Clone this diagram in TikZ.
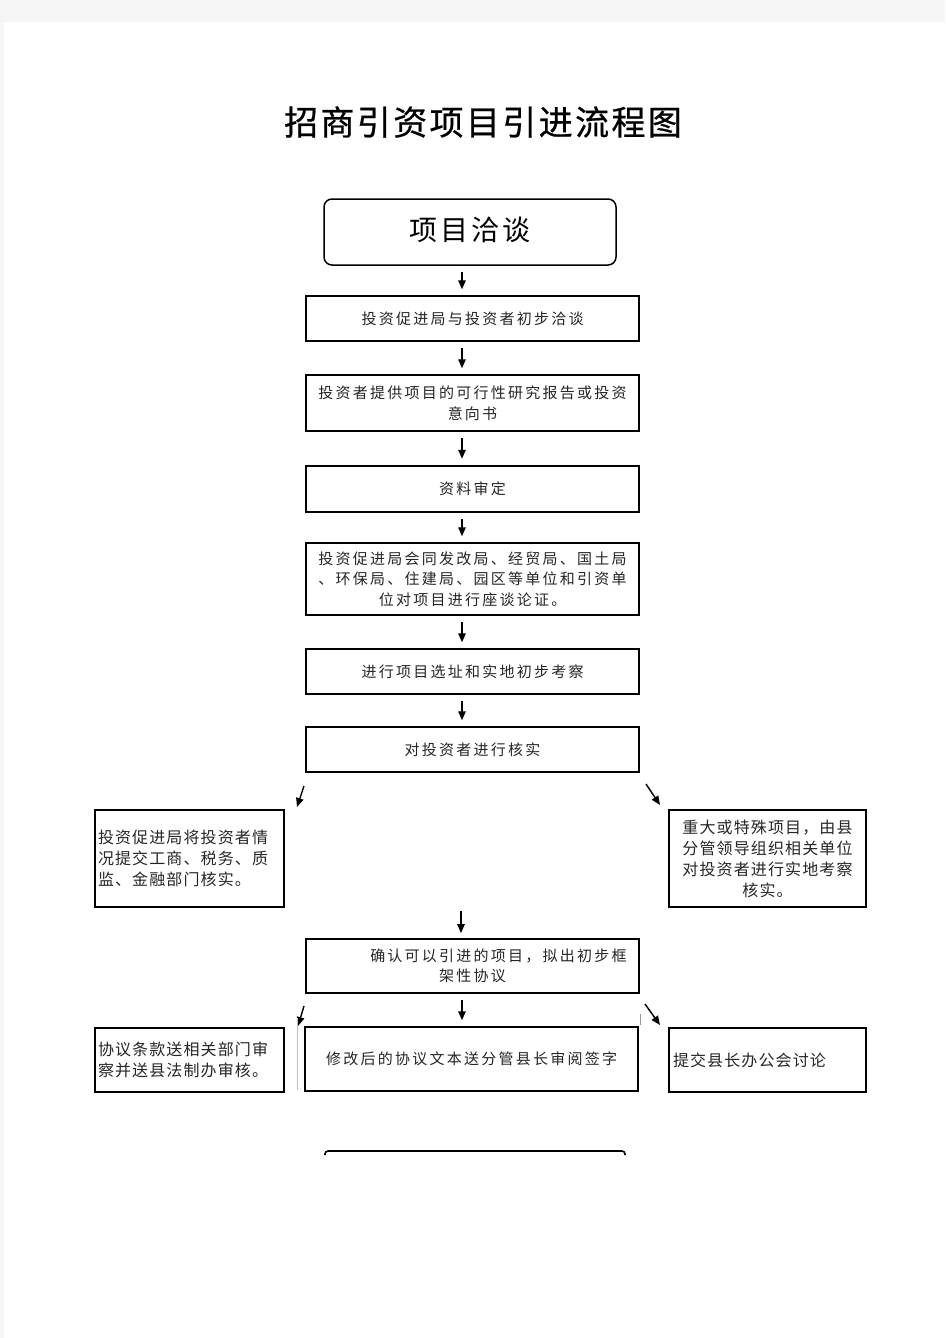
\documentclass[tikz,border=0pt]{standalone}
\usepackage{fontspec}
\usepackage{xcolor}
\usepackage{tikz}
\usetikzlibrary{positioning,calc,arrows.meta}
\newfontfamily\cjk[LetterSpace=15]{Noto Sans CJK SC}
\newfontfamily\cjkside[LetterSpace=7]{Noto Sans CJK SC}
\newfontfamily\cjkbig[LetterSpace=10]{Noto Sans CJK SC}
\newfontfamily\cjktitle[LetterSpace=7, FakeBold=0.6]{Noto Sans CJK SC}
\tikzstyle{arrow} = [-{Triangle[length=9pt,width=7.5pt]}, line width=1.4pt]
\tikzstyle{box} = [rectangle, draw, line width=1.5pt, minimum width=333pt, minimum height=45pt, inner sep=0pt, align=center, text=black!85, font=\cjk\fontsize{15}{20.5}\selectfont]
\tikzstyle{sidebox} = [box, minimum width=189pt, font=\cjkside\fontsize{16}{21}\selectfont]

\begin{document}
\begin{tikzpicture}[x=1pt, y=-1pt]
    \useasboundingbox (0,0) rectangle (945,1338);
    % page
    \fill[black!4] (0,0) rectangle (945,1338);
    \fill[white] (4,22) rectangle (945,1338);

    % title
    \node[font=\cjktitle\fontsize{34}{36}\selectfont] (title) at (483,122) {招商引资项目引进流程图};

    % main column
    \node[box, rounded corners=8pt, minimum width=292pt, minimum height=66pt, font=\cjkbig\fontsize{28}{30}\selectfont, text=black] (talk) at (470,232) {\raisebox{6pt}{项目洽谈}};
    \node[box] (first) at (472.5,318.5) {投资促进局与投资者初步洽谈};
    \node[box, minimum height=56pt] (report) at (472.5,403) {投资者提供项目的可行性研究报告或投资\\意向书};
    \node[box, line width=2.5pt, minimum height=46pt] (review) at (472.5,489) {资料审定};
    \node[box, minimum height=72pt] (meet) at (472.5,579) {投资促进局会同发改局、经贸局、国土局\\、环保局、住建局、园区等单位和引资单\\位对项目进行座谈论证。};
    \node[box] (site) at (472.5,671.5) {进行项目选址和实地初步考察};
    \node[box] (verify) at (472.5,749.5) {对投资者进行核实};

    % side checks
    \node[sidebox, minimum height=97pt, text width=183pt, align=left, line width=1.8pt] (dept) at (189.5,858.5) {投资促进局将投资者情\\况提交工商、税务、质\\监、金融部门核实。};
    \node[sidebox, minimum width=197pt, minimum height=97pt, line width=1.8pt] (leader) at (767.5,858.5) {重大或特殊项目，由县\\分管领导组织相关单位\\对投资者进行实地考察\\核实。};

    % agreement
    \node[box, minimum height=54pt, line width=1.8pt] (frame) at (472.5,966) {\hspace*{52pt}确认可以引进的项目，拟出初步框\\架性协议};
    \node[sidebox, minimum height=64pt, text width=183pt, align=left] (legal) at (189.5,1060) {协议条款送相关部门审\\察并送县法制办审核。};
    \node[box, minimum height=64pt] (sign) at (471.5,1059) {修改后的协议文本送分管县长审阅签字};
    \node[sidebox, minimum width=197pt, minimum height=64pt, text width=189pt, align=left] (office) at (767.5,1060) {提交县长办公会讨论};

    % arrows
    \coordinate (axis) at (462,0);
    \foreach \a/\b in {talk/first, first/report, report/review, review/meet, meet/site, site/verify, frame/sign}
        \draw[arrow, shorten <=6pt, shorten >=6pt] (axis |- \a.south) -- (axis |- \b.north);
    \coordinate (vl) at (304,786);
    \coordinate (vr) at (646,784);
    \coordinate (vd) at (461,911);
    \coordinate (fl) at (304,1006);
    \coordinate (fr) at (645,1004);
    \draw[arrow] (vl) -- (297,807);
    \draw[arrow] (vr) -- (660,805);
    \draw[arrow, shorten >=5pt] (vd) -- (vd |- frame.north);
    \draw[arrow] (fl) -- (298,1026);
    \draw[arrow] (fr) -- (660,1025);

    % faint marks and cut-off box
    \draw[black!25, line width=0.8pt] (297,1018) -- (297,1090);
    \draw[black!40, line width=0.8pt] (640,1014) -- (640,1025);
    \draw[line width=1.6pt, rounded corners=3pt] (325,1155) -- (325,1151) -- (625,1151) -- (625,1155);
\end{tikzpicture}
\end{document}
